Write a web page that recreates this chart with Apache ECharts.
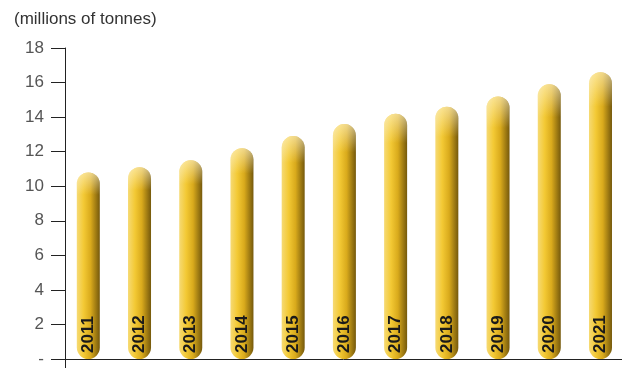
<!DOCTYPE html>
<html>
<head>
<meta charset="utf-8">
<script src="https://cdn.jsdelivr.net/npm/echarts@6/dist/echarts.min.js"></script>
<style>
  html, body { margin: 0; padding: 0; background: #fff; }
  #chart { width: 622px; height: 368px; }
</style>
</head>
<body>
<div id="chart"></div>
<script>
const years = ['2011', '2012', '2013', '2014', '2015', '2016', '2017', '2018', '2019', '2020', '2021'];
const tonnes = [10.8, 11.1, 11.5, 12.2, 12.9, 13.6, 14.2, 14.6, 15.2, 15.9, 16.6];
const yTicks = [0, 2, 4, 6, 8, 10, 12, 14, 16, 18];

const points = tonnes.map((v, i) => [i, v]);
const font = '"Liberation Sans", Arial, sans-serif';

const chart = echarts.init(document.getElementById('chart'));
chart.setOption({
  animation: false,
  title: {
    text: '(millions of tonnes)',
    left: 9, top: 6,
    textStyle: { fontFamily: font, fontSize: 17, fontWeight: 'normal', color: '#333' }
  },
  grid: { left: 65, right: 0, top: 48, bottom: 9 },
  xAxis: {
    type: 'value',
    min: -0.455,
    max: 10.42,
    axisLine: { show: true, lineStyle: { color: '#222', width: 1 } },
    axisTick: { show: true, length: 9, customValues: [-0.455], lineStyle: { color: '#222' } },
    axisLabel: { show: false },
    splitLine: { show: false }
  },
  yAxis: {
    type: 'value',
    min: 0, max: 18, interval: 2,
    axisLine: { show: true, onZero: false, lineStyle: { color: '#222', width: 1 } },
    axisTick: { show: true, length: 14, customValues: yTicks, lineStyle: { color: '#222' } },
    axisLabel: {
      margin: 21,
      fontFamily: font, fontSize: 17, color: '#555',
      formatter: v => (v === 0 ? '-' : String(v))
    },
    splitLine: { show: false }
  },
  series: [
    {
      type: 'bar',
      data: points,
      barWidth: 23,
      itemStyle: {
        borderRadius: 11.5,
        color: new echarts.graphic.LinearGradient(0, 0, 1, 0, [
          { offset: 0, color: '#f6da74' },
          { offset: 0.3, color: '#f3c934' },
          { offset: 0.6, color: '#d9aa1c' },
          { offset: 1, color: '#75590c' }
        ])
      },
      label: {
        show: true,
        position: 'insideBottom',
        rotate: 90,
        align: 'left',
        verticalAlign: 'middle',
        distance: 6,
        fontFamily: font, fontSize: 17, fontWeight: 'bold', color: '#1a1a1a',
        formatter: p => years[p.dataIndex]
      },
      z: 2
    },
    {
      type: 'bar',
      data: points,
      barWidth: 23,
      barGap: '-100%',
      silent: true,
      itemStyle: {
        borderRadius: 11.5,
        color: new echarts.graphic.LinearGradient(0, 0, 0, 1, [
          { offset: 0, color: 'rgba(255,245,210,0.6)' },
          { offset: 0.12, color: 'rgba(255,245,210,0)' },
          { offset: 1, color: 'rgba(255,245,210,0)' }
        ])
      },
      z: 3
    }
  ]
});
</script>
</body>
</html>
